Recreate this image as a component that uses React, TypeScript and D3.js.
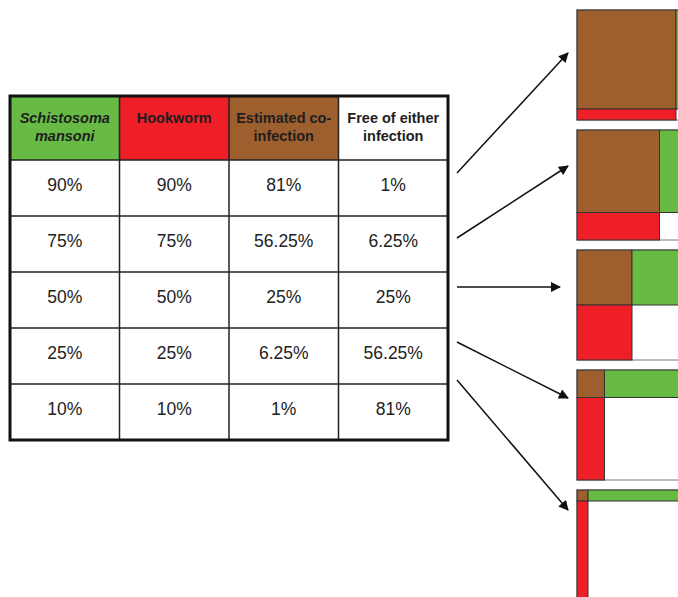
import React from "react";
import * as d3 from "d3";

const headers = [
  { lines: ["Schistosoma", "mansoni"], italic: true },
  { lines: ["Hookworm"], italic: false },
  { lines: ["Estimated co-", "infection"], italic: false },
  { lines: ["Free of either", "infection"], italic: false },
];
const schistosoma = [90, 75, 50, 25, 10];
const hookworm = [90, 75, 50, 25, 10];
const coinfection = [81, 56.25, 25, 6.25, 1];
const freeOfEither = [1, 6.25, 25, 56.25, 81];

const headerFills = ["#67bb45", "#ee1f26", "#9e5f2f", "#ffffff"];
const GREEN = "#67bb45";
const RED = "#ee1f26";
const BROWN = "#9e5f2f";

// layout
const T_LEFT = 10, T_RIGHT = 448, T_TOP = 96, H_BOTTOM = 160, T_BOTTOM = 440;
const SQ_X = 577, SQ_Y0 = 10, SQ_SIZE = 110, SQ_GAP = 10;
const arrowStartY = [173, 238, 287, 342, 380];
const arrowEnd = [
  [568, 53],
  [568, 166],
  [560, 287],
  [568, 398],
  [568, 510],
];

export default function App() {
  const colX = d3.scaleBand<number>().domain([0, 1, 2, 3]).range([T_LEFT, T_RIGHT]);
  const rowY = d3.scaleBand<number>().domain(d3.range(schistosoma.length)).range([H_BOTTOM, T_BOTTOM]);
  const sq = d3.scaleLinear().domain([0, 100]).range([0, SQ_SIZE]);
  const fmt = (v: number) => `${v}%`;
  const rows = schistosoma.map((s, i) => [s, hookworm[i], coinfection[i], freeOfEither[i]]);
  const font = "'Liberation Sans', Arial, sans-serif";

  return (
    <svg width={678} height={597} style={{ position: "absolute", left: 0, top: 0, background: "#fff" }} fontFamily={font}>
      <defs>
        <marker id="ah" viewBox="0 0 10 10" refX="9" refY="5" markerWidth="11" markerHeight="10" orient="auto" markerUnits="userSpaceOnUse">
          <path d="M0,0 L10,5 L0,10 z" fill="#111" />
        </marker>
      </defs>
      {/* header cells */}
      {headers.map((h, c) => (
        <g key={"h" + c}>
          <rect x={colX(c)} y={T_TOP} width={colX.bandwidth()} height={H_BOTTOM - T_TOP} fill={headerFills[c]} />
          {h.lines.map((ln, k) => (
            <text
              key={k}
              x={(colX(c) as number) + colX.bandwidth() / 2}
              y={119 + k * 18}
              textAnchor="middle"
              dominantBaseline="middle"
              fontSize={14.5}
              fontWeight="bold"
              fontStyle={h.italic ? "italic" : "normal"}
              fill="#1e1e1e"
            >
              {ln}
            </text>
          ))}
        </g>
      ))}
      {/* body cells */}
      {rows.map((r, i) =>
        r.map((v, c) => (
          <text
            key={`c${i}-${c}`}
            x={(colX(c) as number) + colX.bandwidth() / 2}
            y={(rowY(i) as number) + 26.5}
            textAnchor="middle"
            dominantBaseline="middle"
            fontSize={17.5}
            fill="#222"
          >
            {fmt(v)}
          </text>
        ))
      )}
      {/* grid lines */}
      {[1, 2, 3].map((c) => (
        <line key={"v" + c} x1={colX(c)} x2={colX(c)} y1={T_TOP} y2={T_BOTTOM} stroke="#222" strokeWidth={1.5} />
      ))}
      {d3.range(schistosoma.length).map((i) => (
        <line key={"r" + i} x1={T_LEFT} x2={T_RIGHT} y1={rowY(i)} y2={rowY(i)} stroke="#222" strokeWidth={1.5} />
      ))}
      <rect x={T_LEFT} y={T_TOP} width={T_RIGHT - T_LEFT} height={T_BOTTOM - T_TOP} fill="none" stroke="#111" strokeWidth={3} />

      {/* arrows */}
      {arrowStartY.map((y, i) => (
        <line key={"a" + i} x1={457} y1={y} x2={arrowEnd[i][0]} y2={arrowEnd[i][1]} stroke="#111" strokeWidth={1.5} markerEnd="url(#ah)" />
      ))}

      {/* squares */}
      {schistosoma.map((s, i) => {
        const y0 = SQ_Y0 + i * (SQ_SIZE + SQ_GAP);
        const h = hookworm[i];
        const w = sq(h);
        const hh = sq(s);
        return (
          <g key={"s" + i} transform={`translate(${SQ_X},${y0})`}>
            <rect x={0} y={0} width={SQ_SIZE} height={SQ_SIZE} fill="#fff" stroke="#777" strokeWidth={1} />
            <rect x={0} y={0} width={w} height={hh} fill={BROWN} stroke="#333" strokeWidth={1} />
            <rect x={w} y={0} width={SQ_SIZE - w} height={hh} fill={GREEN} stroke="#333" strokeWidth={1} />
            <rect x={0} y={hh} width={w} height={SQ_SIZE - hh} fill={RED} stroke="#333" strokeWidth={1} />
          </g>
        );
      })}
    </svg>
  );
}
